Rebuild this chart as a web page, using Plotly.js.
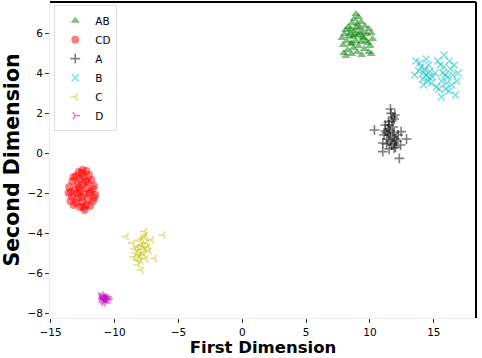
<!DOCTYPE html>
<html>
<head>
<meta charset="utf-8">
<script src="https://cdn.plot.ly/plotly-3.0.1.min.js"></script>
<style>html,body{margin:0;padding:0;background:#fff;}#chart{width:482px;height:358px;}</style>
</head>
<body>
<div id="chart"></div>
<script>
const seriesNames = ["AB", "CD", "A", "B", "C", "D"];

const AB = [[8.9,6.95],[9.1,6.8],[8.75,6.7],[9.3,6.55],[8.6,6.5],[9.0,6.45],[8.3,6.3],[9.6,6.35],[8.1,6.15],[9.9,6.2],[8.5,6.2],[9.2,6.25],[8.8,6.1],[9.45,6.05],[8.0,5.95],[9.75,5.95],[10.1,6.0],[8.35,5.85],[9.05,5.9],[8.65,5.8],[9.5,5.75],[7.8,5.75],[10.2,5.7],[8.2,5.6],[8.9,5.6],[9.3,5.55],[9.85,5.5],[8.5,5.45],[7.9,5.4],[10.0,5.35],[9.1,5.35],[8.7,5.25],[9.55,5.2],[8.25,5.15],[9.9,5.05],[7.95,5.0],[8.55,4.95],[9.35,4.9],[10.1,4.95],[8.1,4.85],[9.0,5.05],[8.8,5.9],[9.2,6.0],[8.45,6.0],[9.7,5.6],[8.95,6.3],[9.4,5.8],[8.6,5.5]];

const CD = [[-12.5,-0.85],[-12.2,-0.9],[-12.8,-0.95],[-12.0,-1.1],[-13.0,-1.15],[-12.4,-1.2],[-12.7,-1.3],[-13.3,-1.4],[-11.8,-1.35],[-12.1,-1.45],[-12.9,-1.55],[-13.55,-1.7],[-12.5,-1.6],[-11.6,-1.65],[-12.2,-1.75],[-13.1,-1.85],[-12.7,-1.9],[-11.9,-1.95],[-13.6,-2.0],[-12.4,-2.05],[-11.5,-2.1],[-13.3,-2.2],[-12.9,-2.25],[-12.1,-2.3],[-11.7,-2.4],[-13.0,-2.5],[-12.5,-2.45],[-12.2,-2.6],[-12.7,-2.7],[-12.35,-2.85],[-11.9,-2.65],[-13.2,-2.6],[-12.6,-2.2],[-12.8,-1.7],[-12.3,-1.4],[-12.0,-2.0],[-13.4,-1.95],[-11.7,-1.8],[-12.55,-1.0],[-12.9,-2.0],[-13.45,-2.4],[-11.6,-2.25],[-12.45,-2.7],[-13.2,-1.2]];

const A = [[11.66,1.98],[11.6,2.2],[11.8,1.8],[11.7,1.6],[11.95,1.9],[11.5,1.4],[11.9,1.7],[11.4,1.2],[11.3,1.0],[11.5,0.9],[11.2,1.1],[11.6,1.1],[11.8,0.8],[12.0,0.7],[11.9,0.5],[12.1,0.6],[11.4,0.7],[11.1,0.9],[11.7,0.4],[12.0,0.3],[10.35,1.15],[12.86,0.7],[12.44,1.07],[11.0,0.07],[12.3,-0.27],[11.9,0.25],[11.3,0.45],[11.0,0.5],[12.2,0.9],[11.6,0.6],[11.8,1.3],[12.4,0.4],[11.2,1.4],[11.5,0.2],[11.9,1.0],[11.45,1.55]];

const B = [[14.4,3.9],[14.2,4.0],[14.6,3.8],[14.3,4.2],[14.5,3.6],[14.0,4.3],[13.8,4.1],[13.6,4.6],[14.4,4.7],[13.5,3.9],[14.8,3.5],[14.1,3.7],[14.7,4.1],[14.9,3.8],[14.2,3.4],[15.2,3.3],[15.9,3.9],[15.7,4.0],[16.1,3.8],[15.8,4.3],[16.0,3.5],[15.6,3.6],[16.3,4.2],[16.5,3.9],[16.4,3.4],[15.5,4.4],[15.8,4.9],[16.2,4.6],[15.6,2.8],[16.7,2.9],[16.8,3.6],[16.6,4.4],[15.4,3.2],[15.9,3.2],[16.2,3.1],[13.9,4.5],[14.6,4.4],[15.1,4.0],[16.9,4.0],[15.3,4.6]];

const C = [[-8.04,-4.85],[-7.9,-4.6],[-7.65,-3.93],[-7.7,-4.2],[-7.12,-4.35],[-7.5,-4.5],[-9.08,-4.18],[-6.2,-4.1],[-6.86,-5.27],[-7.9,-5.85],[-8.58,-4.5],[-8.2,-4.7],[-7.8,-5.0],[-8.1,-5.2],[-7.6,-4.8],[-8.3,-5.0],[-7.95,-5.4],[-7.7,-5.1],[-8.0,-4.4],[-7.4,-4.7],[-8.15,-5.6],[-7.85,-4.3],[-8.4,-4.8],[-7.55,-5.3],[-8.05,-5.1],[-7.75,-4.65],[-8.25,-5.35],[-7.3,-4.9],[-8.5,-5.2],[-7.6,-4.1]];

const D = [[-10.8,-7.25],[-10.9,-7.15],[-10.7,-7.3],[-11.0,-7.2],[-10.6,-7.35],[-10.85,-7.4],[-11.1,-7.15],[-10.55,-7.2],[-10.75,-7.1],[-10.95,-7.35],[-10.65,-7.5],[-10.8,-7.45],[-11.05,-7.3],[-10.5,-7.3],[-10.7,-7.2]];

const xTicks = [-15, -10, -5, 0, 5, 10, 15];
const yTicks = [-8, -6, -4, -2, 0, 2, 4, 6];

const data = [AB, CD, A, B, C, D];
const styles = [
  {size: 8, symbol: "triangle-up", color: "rgba(0,128,0,0.5)", line: {width: 0}},
  {size: 8, symbol: "circle", color: "rgba(255,0,0,0.5)", line: {width: 0}},
  {size: 7, symbol: "cross-thin", color: "rgba(0,0,0,0.5)", line: {width: 1.6, color: "rgba(0,0,0,0.5)"}},
  {size: 7, symbol: "x-thin", color: "rgba(0,191,191,0.5)", line: {width: 1.5, color: "rgba(0,191,191,0.5)"}},
  {size: 6, symbol: "y-left", color: "rgba(191,191,0,0.5)", line: {width: 1.5, color: "rgba(191,191,0,0.5)"}},
  {size: 6, symbol: "y-right", color: "rgba(191,0,191,0.5)", line: {width: 1.5, color: "rgba(191,0,191,0.5)"}}
];

const traces = data.map((pts, i) => ({
  type: "scatter",
  mode: "markers",
  name: seriesNames[i],
  x: pts.map(p => p[0]),
  y: pts.map(p => p[1]),
  marker: styles[i],
  hoverinfo: "skip"
}));

const layout = {
  width: 482, height: 358,
  margin: {l: 50, r: 6, t: 2, b: 40},
  paper_bgcolor: "#fff", plot_bgcolor: "#fff",
  font: {family: "DejaVu Sans", size: 10, color: "#000"},
  showlegend: true,
  legend: {
    x: 0.01, y: 0.99, xanchor: "left", yanchor: "top",
    bgcolor: "#fff", bordercolor: "#dddddd", borderwidth: 1,
    font: {family: "DejaVu Sans", size: 10.5, color: "#000"},
    itemwidth: 30
  },
  xaxis: {
    range: [-15.05, 18.3],
    tickvals: xTicks, ticktext: xTicks.map(v => v < 0 ? "\u2212" + Math.abs(v) : String(v)),
    ticks: "outside", ticklen: 4, tickcolor: "#333", tickwidth: 1,
    showgrid: false, zeroline: false,
    showline: true, linecolor: "#ebebeb", linewidth: 1,
    tickfont: {family: "DejaVu Sans", size: 10.5, color: "#000"},
    title: {text: "<b>First Dimension</b>", font: {family: "DejaVu Sans", size: 16.5, color: "#000"}, standoff: 4}
  },
  yaxis: {
    range: [-8.25, 7.55],
    tickvals: yTicks, ticktext: yTicks.map(v => v < 0 ? "\u2212" + Math.abs(v) : String(v)),
    ticks: "outside", ticklen: 4, tickcolor: "#333", tickwidth: 1,
    showgrid: false, zeroline: false,
    showline: true, linecolor: "#ebebeb", linewidth: 1,
    tickfont: {family: "DejaVu Sans", size: 10.5, color: "#000"},
    title: {text: "<b>Second Dimension</b>", font: {family: "DejaVu Sans", size: 20.5, color: "#000"}, standoff: 4}
  },
  shapes: [
    {type: "line", xref: "paper", yref: "paper", x0: 0, x1: 1, y0: 1, y1: 1, line: {color: "#000", width: 2}},
    {type: "line", xref: "paper", yref: "paper", x0: 1, x1: 1, y0: 0, y1: 1, line: {color: "#000", width: 2}}
  ]
};

Plotly.newPlot("chart", traces, layout, {displayModeBar: false, staticPlot: true});
</script>
</body>
</html>
